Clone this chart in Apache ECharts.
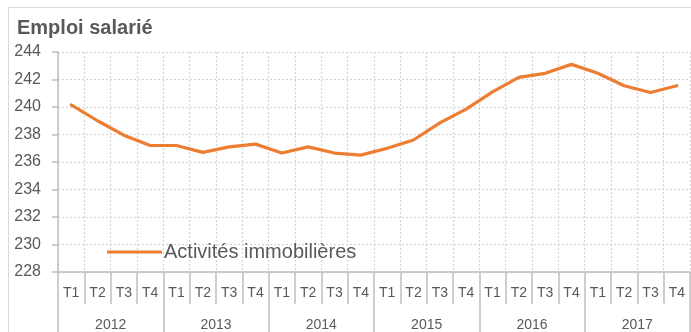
<!DOCTYPE html>
<html>
<head>
<meta charset="utf-8">
<script src="https://cdn.jsdelivr.net/npm/echarts@6/dist/echarts.min.js"></script>
<style>
  html, body { margin: 0; padding: 0; background: #ffffff; }
  #chart { width: 691px; height: 332px; }
</style>
</head>
<body>
<div id="chart"></div>
<script>
// Quarterly salaried employment, real estate activities (thousands)
const quarters = ['T1','T2','T3','T4','T1','T2','T3','T4','T1','T2','T3','T4',
                  'T1','T2','T3','T4','T1','T2','T3','T4','T1','T2','T3','T4'];
const years = ['2012','2013','2014','2015','2016','2017'];
const seriesName = 'Activités immobilières';
const values = [240.15, 239.0, 237.95, 237.2, 237.2, 236.7, 237.1, 237.3,
                236.65, 237.1, 236.65, 236.5, 237.0, 237.6, 238.85, 239.85,
                241.1, 242.15, 242.45, 243.1, 242.45, 241.55, 241.05, 241.55];

const grey = '#595959';
const lineGrey = '#bfbfbf';
const gridGrey = '#d4d4d4';

const chart = echarts.init(document.getElementById('chart'), null, { renderer: 'canvas' });
chart.setOption({
  backgroundColor: '#ffffff',
  animation: false,
  graphic: [{
    type: 'rect',
    shape: { x: 8.5, y: 7.5, width: 700, height: 340 },
    style: { fill: 'none', stroke: '#d9d9d9', lineWidth: 1 },
    silent: true
  }],
  title: {
    text: 'Emploi salarié',
    left: 17, top: 18,
    padding: 0,
    textStyle: { fontFamily: 'Liberation Sans', fontWeight: 'bold', fontSize: 20, color: grey }
  },
  legend: {
    data: [{ name: seriesName, icon: 'rect' }],
    left: 107, top: 242,
    padding: 0,
    itemWidth: 55, itemHeight: 3,
    textStyle: { fontFamily: 'Liberation Sans', fontSize: 20, color: grey, padding: [0, 0, 0, -3] }
  },
  grid: { left: 58, right: 1, top: 52, bottom: 59, containLabel: false },
  xAxis: [{
    type: 'category',
    data: quarters,
    position: 'bottom',
    boundaryGap: true,
    axisLine: { show: true, lineStyle: { color: lineGrey, width: 1.5 } },
    axisTick: { show: true, interval: 0, length: 32, lineStyle: { color: lineGrey, width: 1.5 } },
    axisLabel: { interval: 0, margin: 14, fontFamily: 'Liberation Sans', fontSize: 14, color: grey },
    splitLine: { show: true, interval: 0, lineStyle: { color: gridGrey, type: [2, 2], width: 1.2 } }
  }, {
    type: 'category',
    data: years,
    position: 'bottom',
    boundaryGap: true,
    axisLine: { show: false },
    axisTick: { show: true, interval: 0, length: 60, lineStyle: { color: lineGrey, width: 1.5 } },
    axisLabel: { interval: 0, margin: 46, fontFamily: 'Liberation Sans', fontSize: 14, color: grey },
    splitLine: { show: false }
  }],
  yAxis: {
    type: 'value',
    min: 228, max: 244, interval: 2,
    axisLine: { show: true, lineStyle: { color: lineGrey, width: 1.5 } },
    axisTick: { show: true, length: 6, lineStyle: { color: lineGrey, width: 1.5 } },
    axisLabel: { margin: 17, fontFamily: 'Liberation Sans', fontSize: 16, color: grey },
    splitLine: { show: true, lineStyle: { color: gridGrey, type: [2, 2], width: 1.2 } }
  },
  series: [{
    name: seriesName,
    type: 'line',
    xAxisIndex: 0,
    data: values,
    symbol: 'none',
    lineStyle: { color: '#ED7D31', width: 3.2, join: 'round', cap: 'round' },
    itemStyle: { color: '#ED7D31' }
  }]
});
</script>
</body>
</html>
